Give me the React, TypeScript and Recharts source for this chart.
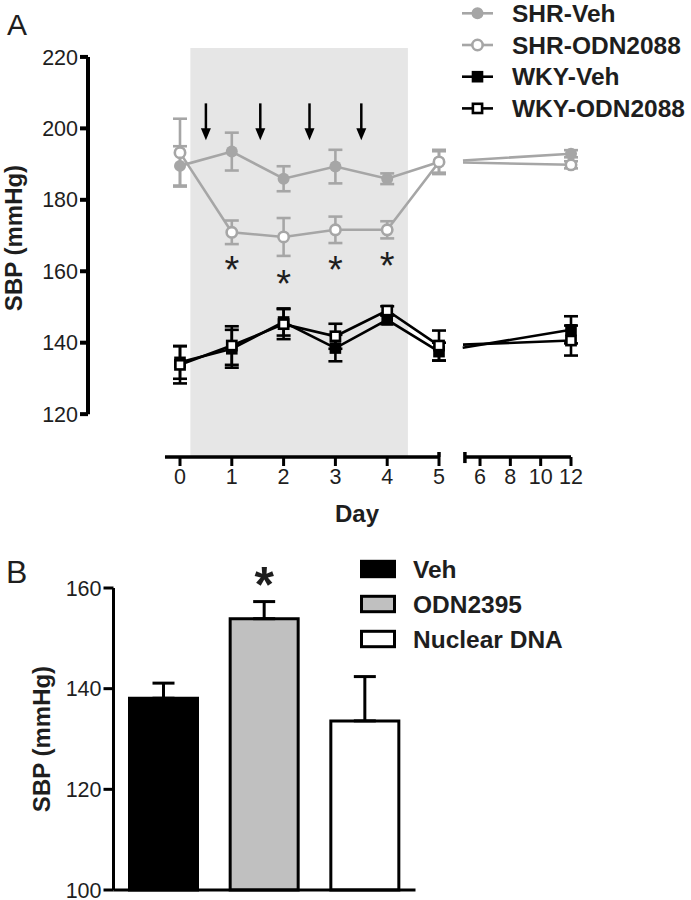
import React from "react";
import {
  Bar,
  Cell,
  ComposedChart,
  ErrorBar,
  LabelList,
  Line,
  ReferenceArea,
  ReferenceLine,
  Scatter,
  XAxis,
  YAxis,
} from "recharts";

const FONT = "'Liberation Sans', Arial, Helvetica, sans-serif";
const INK = "#1e1e1e";
const GREY = "#a6a6a6";

// ---- Panel A: SBP over days (mean ± SEM)
const days = [0, 1, 2, 3, 4, 5, 12];
const dayTicks = [0, 1, 2, 3, 4, 5, 6, 8, 10, 12];
const shrVeh = [189.5, 193.5, 185.9, 189.3, 185.9, 190.6, 192.9];
const shrVehSem = [5.5, 5.3, 3.5, 4.7, 1.5, 3.4, 1];
const shrOdn = [193.2, 170.9, 169.6, 171.6, 171.6, 190.6, 189.8];
const shrOdnSem = [9.5, 3.3, 5.3, 3.7, 2.4, 3.0, 1];
const wkyVeh = [134.5, 138.3, 145.8, 138.5, 146.4, 137.5, 143.6];
const wkyVehSem = [4.6, 5.3, 3.8, 3.7, 1.2, 2.5, 3.8];
const wkyOdn = [133.8, 139.2, 145.2, 141.8, 149.0, 139.2, 140.6];
const wkyOdnSem = [5.2, 5.4, 4.2, 3.5, 1.2, 4.2, 4.2];
const injectionDays = [0.5, 1.55, 2.5, 3.5];
const injectionArrowTop = 207;
const sigDays = [1, 2, 3, 4];
const sigLevels = [162.7, 158.6, 162.7, 163.7];
const treatmentWindow = [0.2, 4.4];
const sbpTicksA = [120, 140, 160, 180, 200, 220];

// ---- Panel B: SBP by treatment
const groups = ["Veh", "ODN2395", "Nuclear DNA"];
const groupMeans = [138.1, 153.9, 133.6];
const groupSem = [3.0, 3.4, 8.8];
const groupSig = ["", "*", ""];
const groupFills = ["#000000", "#c0c0c0", "#ffffff"];
const sbpTicksB = [100, 120, 140, 160];

// x axis is broken after day 5; later days are compressed
const BREAK_AT = 5;
const pos = (d: number) => (d <= BREAK_AT ? d : 5.792 + (d - 6) * 0.2927);
const X_DOMAIN: [number, number] = [-1.776, 8.108];
const Y_DOMAIN: [number, number] = [108, 222.5];

const series = [
  { key: "shrVeh", name: "SHR-Veh", values: shrVeh, sem: shrVehSem, color: GREY, kind: "dot" },
  { key: "shrOdn", name: "SHR-ODN2088", values: shrOdn, sem: shrOdnSem, color: GREY, kind: "ring" },
  { key: "wkyVeh", name: "WKY-Veh", values: wkyVeh, sem: wkyVehSem, color: "#000", kind: "block" },
  { key: "wkyOdn", name: "WKY-ODN2088", values: wkyOdn, sem: wkyOdnSem, color: "#000", kind: "box" },
];

const rows = days.map((d, i) => {
  const row: Record<string, number | undefined> = { day: d, pos: pos(d) };
  for (const s of series) {
    row[s.key] = d <= BREAK_AT ? s.values[i] : undefined;
    row[s.key + "Err"] = d <= BREAK_AT ? s.sem[i] : undefined;
    row[s.key + "Tail"] = d >= BREAK_AT ? s.values[i] : undefined;
    row[s.key + "TailErr"] = d > BREAK_AT ? s.sem[i] : undefined;
  }
  return row;
});

const arrows = injectionDays.map((d) => ({ pos: pos(d), y: injectionArrowTop }));
const stars = sigDays.map((d, i) => ({ pos: pos(d), y: sigLevels[i] }));

const barRows = groups.map((g, i) => ({
  group: g,
  mean: groupMeans[i],
  err: [0, groupSem[i]],
  sig: groupSig[i],
  fill: groupFills[i],
}));

function Marker({ kind, cx, cy }: { kind: string; cx: number; cy: number }) {
  if (kind === "dot") return <circle cx={cx} cy={cy} r={6} fill={GREY} />;
  if (kind === "ring")
    return <circle cx={cx} cy={cy} r={5.2} fill="#fff" stroke={GREY} strokeWidth={2.6} />;
  if (kind === "block")
    return <rect x={cx - 5.8} y={cy - 5.8} width={11.6} height={11.6} fill="#000" />;
  return (
    <rect x={cx - 4.6} y={cy - 4.6} width={9.2} height={9.2} fill="#fff" stroke="#000" strokeWidth={2.6} />
  );
}

const dotFor = (kind: string, tailOnly: boolean) => (p: any) => {
  const k = `${kind}-${tailOnly ? "t" : "m"}-${p.index}`;
  if (p.cx == null || p.cy == null || p.value == null || (tailOnly && p.payload.day <= BREAK_AT)) {
    return <g key={k} />;
  }
  return (
    <g key={k}>
      <Marker kind={kind} cx={p.cx} cy={p.cy} />
    </g>
  );
};

const InjectionArrow = (p: any) => (
  <g>
    <line x1={p.cx} y1={p.cy} x2={p.cx} y2={p.cy + 27} stroke="#000" strokeWidth={2.5} />
    <polygon points={`${p.cx - 5},${p.cy + 25} ${p.cx + 5},${p.cy + 25} ${p.cx},${p.cy + 37}`} fill="#000" />
  </g>
);

const Star = (p: any) => (
  <text x={p.cx} y={p.cy + 21} textAnchor="middle" fontFamily={FONT} fontSize={38} fill={INK}>
    *
  </text>
);

const sbpTitle = (dx: number, dy: number) => (props: any) => {
  const vb = props.viewBox;
  const x = vb.x + dx;
  const y = vb.y + vb.height / 2 + dy;
  return (
    <text
      x={x}
      y={y}
      transform={`rotate(-90 ${x} ${y})`}
      textAnchor="middle"
      fontFamily={FONT}
      fontWeight="bold"
      fontSize={24}
      fill={INK}
    >
      SBP (mmHg)
    </text>
  );
};

const dayTitle = (props: any) => {
  const vb = props.viewBox;
  return (
    <text
      x={vb.x + vb.width / 2 + 13}
      y={vb.y + 65}
      textAnchor="middle"
      fontFamily={FONT}
      fontWeight="bold"
      fontSize={24}
      fill={INK}
    >
      Day
    </text>
  );
};

const dayLabel = (v: number) => {
  const i = dayTicks.findIndex((d) => Math.abs(pos(d) - v) < 1e-6);
  return i < 0 ? "" : String(dayTicks[i]);
};

const BarStar = (p: any) =>
  p.value ? (
    <text
      x={p.x + p.width / 2}
      y={p.y - 17}
      textAnchor="middle"
      fontFamily={FONT}
      fontWeight="bold"
      fontSize={50}
      fill={INK}
    >
      {p.value}
    </text>
  ) : null;

const tickStyle = { fontSize: 21.5, fill: INK, fontFamily: FONT };
const axisStroke = { stroke: "#000", strokeWidth: 3 };

function PanelA() {
  const y0 = Y_DOMAIN[0];
  return (
    <ComposedChart width={691} height={530} data={rows} margin={{ top: 48, right: 91, bottom: 33, left: 8 }}>
      <ReferenceArea
        x1={treatmentWindow[0]}
        x2={treatmentWindow[1]}
        fill="#e6e6e6"
        fillOpacity={1}
        stroke="none"
        ifOverflow="visible"
      />
      <XAxis
        type="number"
        dataKey="pos"
        domain={X_DOMAIN}
        ticks={dayTicks.map(pos)}
        tickFormatter={dayLabel}
        interval={0}
        axisLine={false}
        tickLine={axisStroke}
        tickSize={9}
        tickMargin={3}
        tick={tickStyle}
        height={40}
        label={dayTitle}
      />
      <YAxis
        type="number"
        domain={Y_DOMAIN}
        ticks={sbpTicksA}
        interval={0}
        axisLine={false}
        tickLine={{ stroke: "#000", strokeWidth: 4 }}
        tickSize={8}
        tick={tickStyle}
        width={80}
        label={sbpTitle(14, -14.5)}
      />
      {/* broken axes drawn as segments */}
      <ReferenceLine
        segment={[{ x: X_DOMAIN[0], y: 120 }, { x: X_DOMAIN[0], y: 220 }]}
        stroke="#000"
        strokeWidth={4}
        ifOverflow="visible"
      />
      <ReferenceLine
        segment={[{ x: -0.29, y: y0 }, { x: BREAK_AT, y: y0 }]}
        stroke="#000"
        strokeWidth={3.5}
        ifOverflow="visible"
      />
      <ReferenceLine
        segment={[{ x: 5.5, y: y0 }, { x: pos(12), y: y0 }]}
        stroke="#000"
        strokeWidth={3.5}
        ifOverflow="visible"
      />
      <ReferenceLine
        segment={[{ x: BREAK_AT, y: y0 }, { x: BREAK_AT, y: 109.4 }]}
        stroke="#000"
        strokeWidth={3.5}
        ifOverflow="visible"
      />
      <ReferenceLine
        segment={[{ x: 5.5, y: 106.3 }, { x: 5.5, y: 109.4 }]}
        stroke="#000"
        strokeWidth={3.5}
        ifOverflow="visible"
      />
      {series.map((s) => (
        <Line
          key={s.key}
          dataKey={s.key}
          type="linear"
          stroke={s.color}
          strokeWidth={2.6}
          dot={dotFor(s.kind, false)}
          activeDot={false}
          isAnimationActive={false}
        >
          <ErrorBar dataKey={s.key + "Err"} width={7} stroke={s.color} strokeWidth={2.6} direction="y" />
        </Line>
      ))}
      {series.map((s) => (
        <Line
          key={s.key + "Tail"}
          dataKey={s.key + "Tail"}
          type="linear"
          stroke={s.color}
          strokeWidth={2.6}
          strokeDasharray="0 24 2000"
          dot={dotFor(s.kind, true)}
          activeDot={false}
          isAnimationActive={false}
        >
          <ErrorBar dataKey={s.key + "TailErr"} width={7} stroke={s.color} strokeWidth={2.6} direction="y" />
        </Line>
      ))}
      <Scatter data={arrows} dataKey="y" shape={InjectionArrow} isAnimationActive={false} />
      <Scatter data={stars} dataKey="y" shape={Star} isAnimationActive={false} />
    </ComposedChart>
  );
}

function PanelB() {
  return (
    <ComposedChart width={691} height={360} data={barRows} margin={{ top: 48, right: 275.5, bottom: 8, left: 4 }}>
      <XAxis dataKey="group" type="category" tick={false} tickLine={false} axisLine={axisStroke} height={2} />
      <YAxis
        type="number"
        domain={[100, 160]}
        ticks={sbpTicksB}
        interval={0}
        axisLine={axisStroke}
        tickLine={axisStroke}
        tickSize={10}
        tick={tickStyle}
        width={109.5}
        label={sbpTitle(46, 0)}
      />
      <Bar dataKey="mean" barSize={68} stroke="#000" strokeWidth={3} isAnimationActive={false}>
        {barRows.map((r) => (
          <Cell key={r.group} fill={r.fill} />
        ))}
        <ErrorBar dataKey="err" width={11} stroke="#000" strokeWidth={3} direction="y" />
        <LabelList dataKey="sig" content={BarStar} />
      </Bar>
    </ComposedChart>
  );
}

function LegendA() {
  return (
    <svg width={236} height={130} style={{ position: "absolute", left: 455, top: 0 }}>
      {series.map((s, i) => {
        const cy = 13.3 + i * 31.7;
        return (
          <g key={s.key}>
            <line x1={7} x2={38} y1={cy} y2={cy} stroke={s.color} strokeWidth={2.6} />
            <Marker kind={s.kind} cx={22.5} cy={cy} />
            <text x={57} y={cy + 8.6} fontFamily={FONT} fontWeight="bold" fontSize={24.5} fill={INK}>
              {s.name}
            </text>
          </g>
        );
      })}
    </svg>
  );
}

function LegendB() {
  return (
    <svg width={260} height={120} style={{ position: "absolute", left: 355, top: 550 }}>
      {groups.map((g, i) => {
        const cy = 19 + i * 35;
        return (
          <g key={g}>
            <rect x={6.5} y={cy - 7.7} width={33} height={15.4} fill={groupFills[i]} stroke="#000" strokeWidth={3} />
            <text x={58} y={cy + 8.5} fontFamily={FONT} fontWeight="bold" fontSize={24.5} fill={INK}>
              {g}
            </text>
          </g>
        );
      })}
    </svg>
  );
}

export default function App() {
  return (
    <div
      style={{
        position: "absolute",
        left: 0,
        top: 0,
        width: 691,
        height: 900,
        background: "#fff",
        fontFamily: FONT,
        overflow: "hidden",
      }}
    >
      <div style={{ position: "absolute", left: 0, top: 0 }}>
        <PanelA />
      </div>
      <div style={{ position: "absolute", left: 0, top: 540 }}>
        <PanelB />
      </div>
      <LegendA />
      <LegendB />
      <div style={{ position: "absolute", left: 7, top: 10, fontSize: 30, lineHeight: "30px", color: INK }}>A</div>
      <div style={{ position: "absolute", left: 6, top: 556, fontSize: 32, lineHeight: "32px", color: INK }}>B</div>
    </div>
  );
}
